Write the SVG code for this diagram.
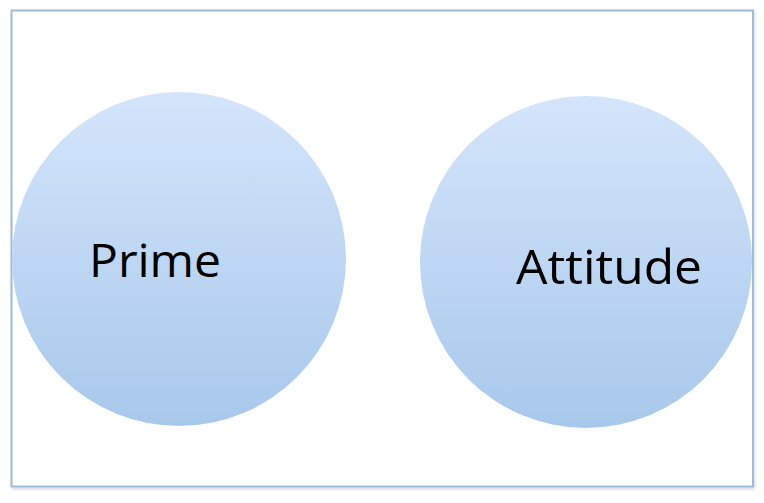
<svg xmlns="http://www.w3.org/2000/svg" width="764" height="503" viewBox="0 0 764 503">
<defs>
<linearGradient id="g" x1="0" y1="0" x2="0" y2="1">
<stop offset="0" stop-color="#d4e5fb"/>
<stop offset="1" stop-color="#a8c8eb"/>
</linearGradient>
<filter id="sh" x="-5%" y="-5%" width="110%" height="110%">
<feDropShadow dx="1" dy="2" stdDeviation="1.5" flood-color="#000" flood-opacity="0.15"/>
</filter>
<style>
.node{fill:url(#g);}
.lbl{font-family:"Open Sans","Liberation Sans",sans-serif;fill:#000;}
</style>
</defs>
<rect width="764" height="503" fill="#fff"/>
<rect x="11.5" y="10.5" width="741.5" height="476" fill="#fff" stroke="#9dbcd9" stroke-width="2" filter="url(#sh)"/>
<g id="connectors"/>
<g id="prime">
<circle class="node" cx="179" cy="259" r="167"/>
<text class="lbl" x="89" y="277" font-size="46" textLength="132" lengthAdjust="spacingAndGlyphs">Prime</text>
</g>
<g id="attitude">
<circle class="node" cx="586" cy="262" r="166"/>
<text class="lbl" x="516" y="284" font-size="48" textLength="186" lengthAdjust="spacingAndGlyphs">Attitude</text>
</g>
</svg>
